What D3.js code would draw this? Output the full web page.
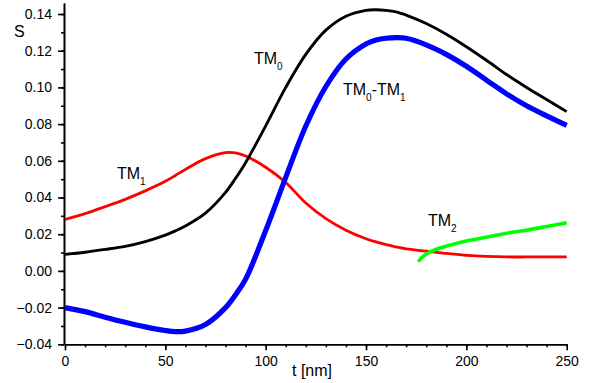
<!DOCTYPE html>
<html>
<head>
<meta charset="utf-8">
<script src="https://cdn.jsdelivr.net/npm/d3@7"></script>
<style>
  body { margin: 0; background: #fff; }
  svg { display: block; font-family: "Liberation Sans", Arial, sans-serif; }
  .axis path, .axis line { stroke: #000; stroke-width: 1.6; }
  .axis text { font-size: 14px; fill: #000; font-family: "Liberation Sans", Arial, sans-serif; }
  .lbl { font-size: 16px; fill: #000; }
</style>
</head>
<body>
<div id="chart"></div>
<script>
// t values in nm
const tGrid = [0, 10, 20, 30, 40, 50, 55, 60, 70, 80, 85, 90, 100, 110, 120, 130, 140, 150, 155, 160, 165, 170, 180, 190, 200, 210, 220, 230, 240, 250];
const tm0 = [0.0090, 0.0102, 0.0117, 0.0134, 0.0160, 0.0195, 0.0218, 0.0245, 0.0315, 0.0428, 0.0505, 0.0590, 0.0790, 0.1000, 0.1180, 0.1312, 0.1388, 0.1420, 0.1423, 0.1420, 0.1412, 0.1394, 0.1348, 0.1290, 0.1222, 0.1148, 0.1070, 0.1000, 0.0934, 0.0868];
const tm1 = [0.0280, 0.0312, 0.0350, 0.0390, 0.0436, 0.0488, 0.0520, 0.0553, 0.0612, 0.0645, 0.0643, 0.0626, 0.0565, 0.0482, 0.0370, 0.0285, 0.0222, 0.0175, 0.0158, 0.0143, 0.0131, 0.0120, 0.0108, 0.0095, 0.0085, 0.0079, 0.0076, 0.0076, 0.0076, 0.0076];
const tmDiff = [-0.0200, -0.0222, -0.0252, -0.0280, -0.0305, -0.0325, -0.0331, -0.0328, -0.0292, -0.0200, -0.0130, -0.0045, 0.0220, 0.0510, 0.0790, 0.1005, 0.1155, 0.1237, 0.1258, 0.1268, 0.1271, 0.1268, 0.1232, 0.1180, 0.1115, 0.1040, 0.0965, 0.0900, 0.0845, 0.0793];
const tm2T = [176, 178, 181, 185, 190, 200, 210, 220, 230, 240, 250];
const tm2 = [0.0050, 0.0075, 0.0098, 0.0118, 0.0135, 0.0163, 0.0183, 0.0205, 0.0222, 0.0242, 0.0263];

const xMajor = [0, 50, 100, 150, 200, 250];
const yMajor = [-0.04, -0.02, 0.00, 0.02, 0.04, 0.06, 0.08, 0.10, 0.12, 0.14];

const width = 601, height = 383;

const svg = d3.select("#chart").append("svg")
    .attr("width", width)
    .attr("height", height);

const x = d3.scaleLinear().domain([0, 250]).range([65, 566.7]);
const y = d3.scaleLinear().domain([-0.04, 0.146]).range([344.3, 3]);

// minor ticks
svg.append("g")
    .attr("class", "axis")
    .attr("transform", "translate(0,344.3)")
    .call(d3.axisBottom(x).tickValues(d3.range(0, 251, 10)).tickSize(3).tickSizeOuter(0).tickFormat(""));
svg.append("g")
    .attr("class", "axis")
    .attr("transform", "translate(64,0)")
    .call(d3.axisLeft(y).tickValues(d3.range(-0.04, 0.1451, 0.01)).tickSize(3).tickSizeOuter(0).tickFormat(""));

// major ticks
svg.append("g")
    .attr("class", "axis")
    .attr("transform", "translate(0,344.3)")
    .call(d3.axisBottom(x).tickValues(xMajor).tickSize(6).tickSizeOuter(0).tickPadding(6).tickFormat(d3.format("d")));
svg.append("g")
    .attr("class", "axis")
    .attr("transform", "translate(64,0)")
    .call(d3.axisLeft(y).tickValues(yMajor).tickSize(6).tickSizeOuter(0).tickPadding(6).tickFormat(d3.format(".2f")));

svg.selectAll(".axis .domain").attr("stroke-width", 1.8);

const line = d3.line()
    .x(d => x(d[0]))
    .y(d => y(d[1]))
    .curve(d3.curveCatmullRom);

const series = [
    { t: tGrid, v: tm1, color: "#ff0000", w: 2.8 },
    { t: tGrid, v: tm0, color: "#000000", w: 2.9 },
    { t: tGrid, v: tmDiff, color: "#0000ff", w: 5.2 },
    { t: tm2T, v: tm2, color: "#00ff00", w: 3.6 }
];

svg.selectAll("path.curve")
    .data(series)
    .enter()
    .append("path")
    .attr("class", "curve")
    .attr("fill", "none")
    .attr("stroke", d => d.color)
    .attr("stroke-width", d => d.w)
    .attr("d", d => line(d.t.map((t, i) => [t, d.v[i]])));

// curve labels
function label(xp, yp, parts) {
    const txt = svg.append("text").attr("class", "lbl").attr("x", xp).attr("y", yp);
    parts.forEach(p => {
        if (p.sub) {
            txt.append("tspan").attr("font-size", "10px").attr("dy", 6).text(p.s);
        } else {
            txt.append("tspan").attr("dy", p.back ? -6 : 0).text(p.s);
        }
    });
}

label(254, 63.5, [{ s: "TM" }, { s: "0", sub: true }]);
label(343, 95, [{ s: "TM" }, { s: "0", sub: true }, { s: "-TM", back: true }, { s: "1", sub: true }]);
label(117, 178.5, [{ s: "TM" }, { s: "1", sub: true }]);
label(428, 226, [{ s: "TM" }, { s: "2", sub: true }]);

// axis titles
svg.append("text").attr("class", "lbl").attr("x", 292).attr("y", 376).text("t [nm]");
svg.append("text").attr("class", "lbl").attr("x", 14).attr("y", 36.5).text("S");
</script>
</body>
</html>
